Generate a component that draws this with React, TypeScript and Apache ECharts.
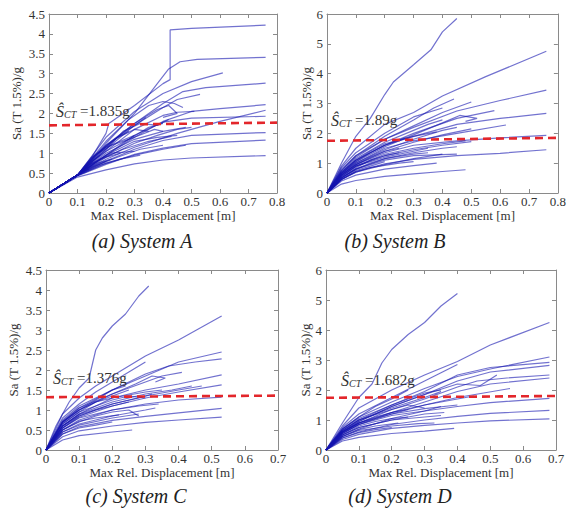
import React, { useEffect, useRef } from "react";
import * as echarts from "echarts";

const FONT = "Liberation Serif";

// ---- Data ----
const xTicksAB = [0, 0.1, 0.2, 0.3, 0.4, 0.5, 0.6, 0.7, 0.8];
const xTicksCD = [0, 0.1, 0.2, 0.3, 0.4, 0.5, 0.6, 0.7];
const yTicksAC = [0, 0.5, 1, 1.5, 2, 2.5, 3, 3.5, 4, 4.5];
const yTicksBD = [0, 1, 2, 3, 4, 5, 6];

const panelTitles = ["(a) System A", "(b) System B", "(c) System C", "(d) System D"];
const sctLabels = ["1.835g", "1.89g", "1.376g", "1.682g"];
// red dashed S_CT line: [value at left, value at right]
const sctLineA = [1.7, 1.77];
const sctLineB = [1.75, 1.85];
const sctLineC = [1.32, 1.36];
const sctLineD = [1.74, 1.8];

const curvesA: number[][][] = [
  [[0,0],[0.1,0.45],[0.15,0.9],[0.2,1.5],[0.21,1.75],[0.3,2.2],[0.4,2.75],[0.425,2.85],[0.425,4.1],[0.5,4.14],[0.76,4.22]],
  [[0,0],[0.1,0.45],[0.2,1.25],[0.3,2.0],[0.38,2.75],[0.42,3.12],[0.46,3.3],[0.52,3.36],[0.76,3.41]],
  [[0,0],[0.1,0.45],[0.2,1.4],[0.3,2.05],[0.4,2.5],[0.5,2.8],[0.61,3.02]],
  [[0,0],[0.1,0.45],[0.2,1.15],[0.3,1.75],[0.4,2.25],[0.47,2.55],[0.55,2.65],[0.76,2.76]],
  [[0,0],[0.1,0.45],[0.2,1.1],[0.3,1.7],[0.4,2.15],[0.45,2.35],[0.53,2.48]],
  [[0,0],[0.1,0.45],[0.2,0.95],[0.3,1.4],[0.4,1.8],[0.5,2.05],[0.6,2.12],[0.76,2.22]],
  [[0,0],[0.1,0.45],[0.2,0.85],[0.3,1.15],[0.45,1.5],[0.6,1.8],[0.76,2.08]],
  [[0,0],[0.1,0.45],[0.2,0.95],[0.3,1.45],[0.4,1.78],[0.5,1.88],[0.76,1.93]],
  [[0,0],[0.1,0.45],[0.2,1.05],[0.3,1.6],[0.4,1.95],[0.45,2.03],[0.51,2.05]],
  [[0,0],[0.1,0.45],[0.2,0.8],[0.3,1.1],[0.4,1.32],[0.5,1.45],[0.76,1.52]],
  [[0,0],[0.1,0.43],[0.2,0.72],[0.3,0.97],[0.4,1.13],[0.5,1.24],[0.76,1.33]],
  [[0,0],[0.1,0.4],[0.2,0.58],[0.3,0.73],[0.4,0.83],[0.5,0.88],[0.76,0.94]],
  [[0,0],[0.1,0.45],[0.2,1.3],[0.28,1.85],[0.35,2.2],[0.4,2.3],[0.44,2.25],[0.47,2.15]],
  [[0,0],[0.1,0.45],[0.2,1.2],[0.3,1.75],[0.38,2.1],[0.42,2.2],[0.45,2.0],[0.4,1.9]],
  [[0,0],[0.1,0.45],[0.2,1.0],[0.3,1.35],[0.4,1.55],[0.48,1.65]],
  [[0,0],[0.1,0.45],[0.18,0.85],[0.26,1.1],[0.35,1.3],[0.43,1.42]],
  [[0,0],[0.1,0.44],[0.2,0.75],[0.3,0.95],[0.4,1.1],[0.48,1.2]],
  [[0,0],[0.1,0.45],[0.17,1.0],[0.23,1.35],[0.3,1.6],[0.35,1.55]],
  [[0,0],[0.1,0.45],[0.15,0.75],[0.22,1.0],[0.3,1.05]],
  [[0,0],[0.1,0.45],[0.14,0.7],[0.2,0.9],[0.25,1.0]],
  [[0,0],[0.1,0.45],[0.13,0.65],[0.16,0.85],[0.18,0.95]],
  [[0,0],[0.1,0.45],[0.15,0.65],[0.2,0.8]],
  [[0,0],[0.1,0.45],[0.2,1.1],[0.26,1.55],[0.32,1.75],[0.38,1.7],[0.42,1.85]],
  [[0,0],[0.1,0.45],[0.15,0.9],[0.22,1.2],[0.3,1.4],[0.37,1.6],[0.4,1.55]],
  [[0,0],[0.1,0.45],[0.2,0.9],[0.3,1.25],[0.38,1.45],[0.45,1.6],[0.5,1.65]],
  [[0,0],[0.1,0.45],[0.12,0.55],[0.14,0.6]],
  [[0,0],[0.1,0.45],[0.13,0.6],[0.17,0.75],[0.22,0.85]],
  [[0,0],[0.1,0.45],[0.16,0.95],[0.2,1.15],[0.25,1.3],[0.3,1.45]],
  [[0,0],[0.1,0.45],[0.12,0.5],[0.18,0.7],[0.25,0.85],[0.32,0.95]],
  [[0,0],[0.1,0.45],[0.15,0.8],[0.2,1.05],[0.28,1.35],[0.35,1.65],[0.4,1.75]],
  [[0,0],[0.1,0.45],[0.14,0.75],[0.19,1.1],[0.24,1.4],[0.28,1.55]],
  [[0,0],[0.1,0.45],[0.2,0.95],[0.3,1.3],[0.38,1.4],[0.45,1.45]],
  [[0,0],[0.1,0.45],[0.17,0.7],[0.24,0.9],[0.32,1.1],[0.4,1.2]],
  [[0,0],[0.1,0.45],[0.15,0.85],[0.2,1.2],[0.25,1.45],[0.3,1.7],[0.34,1.9]],
];

const curvesB: number[][][] = [
  [[0,0],[0.05,1.0],[0.1,1.9],[0.15,2.5],[0.2,3.3],[0.23,3.72],[0.3,4.3],[0.36,4.8],[0.4,5.4],[0.45,5.85]],
  [[0,0],[0.05,0.9],[0.1,1.5],[0.2,2.3],[0.3,2.7],[0.4,3.25],[0.55,3.9],[0.76,4.75]],
  [[0,0],[0.05,0.75],[0.1,1.25],[0.2,1.8],[0.3,2.2],[0.45,2.75],[0.6,3.1],[0.76,3.45]],
  [[0,0],[0.05,0.65],[0.1,1.1],[0.2,1.6],[0.3,1.9],[0.45,2.3],[0.6,2.5],[0.76,2.67]],
  [[0,0],[0.05,0.6],[0.1,0.95],[0.2,1.35],[0.3,1.6],[0.45,1.75],[0.6,1.85],[0.76,1.93]],
  [[0,0],[0.05,0.45],[0.1,0.72],[0.2,0.98],[0.3,1.13],[0.45,1.25],[0.6,1.33],[0.76,1.45]],
  [[0,0],[0.05,0.3],[0.1,0.42],[0.2,0.56],[0.3,0.64],[0.4,0.72],[0.48,0.78]],
  [[0,0],[0.05,0.6],[0.1,1.0],[0.2,1.5],[0.3,1.75],[0.45,2.0],[0.62,2.28]],
  [[0,0],[0.05,0.7],[0.1,1.1],[0.2,1.6],[0.3,2.0],[0.45,2.5],[0.58,2.76]],
  [[0,0],[0.05,0.75],[0.1,1.2],[0.2,1.8],[0.3,2.25],[0.4,2.7],[0.5,3.05]],
  [[0,0],[0.05,0.8],[0.1,1.25],[0.2,1.9],[0.3,2.45],[0.37,2.85],[0.44,3.15]],
  [[0,0],[0.05,0.65],[0.1,1.05],[0.2,1.55],[0.3,1.95],[0.4,2.35],[0.46,2.6],[0.52,2.5],[0.48,2.4]],
  [[0,0],[0.05,0.6],[0.1,0.95],[0.2,1.4],[0.3,1.7],[0.4,1.95],[0.5,2.15]],
  [[0,0],[0.05,0.55],[0.1,0.9],[0.2,1.3],[0.3,1.5],[0.4,1.65],[0.48,1.75]],
  [[0,0],[0.05,0.5],[0.1,0.8],[0.2,1.15],[0.3,1.35],[0.4,1.5],[0.45,1.55]],
  [[0,0],[0.05,0.45],[0.1,0.7],[0.2,0.95],[0.3,1.15],[0.4,1.3]],
  [[0,0],[0.05,0.4],[0.1,0.6],[0.2,0.8],[0.3,0.92],[0.38,1.0]],
  [[0,0],[0.05,0.7],[0.1,1.15],[0.2,1.7],[0.3,2.1],[0.35,2.3],[0.4,2.45]],
  [[0,0],[0.05,0.65],[0.1,1.05],[0.15,1.35],[0.2,1.6],[0.27,1.85],[0.3,1.75]],
  [[0,0],[0.05,0.5],[0.1,0.85],[0.15,1.1],[0.2,1.25],[0.25,1.35]],
  [[0,0],[0.05,0.45],[0.1,0.75],[0.15,0.9],[0.2,1.05]],
  [[0,0],[0.05,0.55],[0.1,0.9],[0.2,1.25],[0.3,1.45],[0.4,1.6],[0.5,1.72]],
  [[0,0],[0.05,0.85],[0.1,1.35],[0.2,2.0],[0.3,2.55],[0.4,2.85]],
  [[0,0],[0.05,0.5],[0.1,0.8],[0.2,1.1],[0.3,1.25],[0.45,1.3]],
  [[0,0],[0.05,0.6],[0.1,0.95],[0.15,1.2],[0.2,1.4],[0.25,1.5]],
  [[0,0],[0.05,0.5],[0.1,0.8],[0.15,1.0],[0.2,1.15],[0.3,1.3],[0.35,1.35]],
  [[0,0],[0.05,0.7],[0.1,1.1],[0.15,1.4],[0.2,1.65],[0.3,1.9],[0.38,2.05]],
  [[0,0],[0.05,0.55],[0.1,0.9],[0.2,1.2],[0.3,1.4],[0.35,1.5]],
  [[0,0],[0.05,0.45],[0.1,0.7],[0.15,0.85],[0.25,1.0],[0.3,1.05]],
  [[0,0],[0.05,0.65],[0.1,1.0],[0.2,1.45],[0.3,1.8],[0.4,2.1],[0.45,2.2]],
];

const curvesC: number[][][] = [
  [[0,0],[0.03,0.6],[0.07,1.2],[0.1,1.55],[0.13,1.8],[0.15,2.5],[0.17,2.8],[0.2,3.1],[0.24,3.4],[0.28,3.85],[0.31,4.1]],
  [[0,0],[0.05,0.9],[0.1,1.3],[0.15,1.6],[0.2,1.85],[0.3,2.35],[0.4,2.75],[0.53,3.35]],
  [[0,0],[0.05,0.7],[0.1,1.0],[0.2,1.5],[0.3,1.85],[0.4,2.2],[0.53,2.45]],
  [[0,0],[0.05,0.72],[0.1,1.05],[0.2,1.5],[0.3,1.9],[0.37,2.1],[0.45,2.2],[0.53,2.28]],
  [[0,0],[0.05,0.6],[0.1,0.9],[0.2,1.3],[0.3,1.5],[0.4,1.65],[0.53,1.88]],
  [[0,0],[0.05,0.55],[0.1,0.82],[0.2,1.1],[0.3,1.3],[0.4,1.45],[0.53,1.63]],
  [[0,0],[0.05,0.5],[0.1,0.75],[0.2,1.0],[0.3,1.15],[0.4,1.25],[0.53,1.32]],
  [[0,0],[0.05,0.4],[0.1,0.58],[0.2,0.74],[0.3,0.84],[0.4,0.93],[0.53,1.04]],
  [[0,0],[0.05,0.33],[0.1,0.48],[0.2,0.6],[0.3,0.69],[0.4,0.75],[0.53,0.82]],
  [[0,0],[0.05,0.25],[0.1,0.36],[0.2,0.45],[0.26,0.5]],
  [[0,0],[0.05,0.68],[0.1,1.0],[0.2,1.4],[0.3,1.7],[0.35,1.85],[0.41,1.94]],
  [[0,0],[0.05,0.6],[0.1,0.9],[0.2,1.2],[0.3,1.4],[0.38,1.5],[0.44,1.6]],
  [[0,0],[0.05,0.8],[0.1,1.15],[0.15,1.45],[0.2,1.7],[0.25,1.95],[0.3,2.2]],
  [[0,0],[0.05,0.7],[0.1,1.05],[0.2,1.4],[0.27,1.65],[0.32,1.85],[0.36,1.8],[0.33,1.7]],
  [[0,0],[0.05,0.55],[0.1,0.8],[0.2,1.0],[0.28,1.1],[0.34,1.15]],
  [[0,0],[0.05,0.6],[0.1,0.88],[0.2,1.15],[0.28,1.3],[0.32,1.4]],
  [[0,0],[0.05,0.45],[0.1,0.62],[0.2,0.8],[0.28,0.9]],
  [[0,0],[0.05,0.65],[0.1,0.95],[0.15,1.2],[0.2,1.35],[0.25,1.5]],
  [[0,0],[0.05,0.5],[0.1,0.7],[0.15,0.85],[0.2,0.95],[0.25,1.0],[0.28,0.85]],
  [[0,0],[0.05,0.4],[0.1,0.55],[0.15,0.62],[0.2,0.7]],
  [[0,0],[0.05,0.75],[0.1,1.1],[0.15,1.3],[0.2,1.5],[0.24,1.6]],
  [[0,0],[0.05,0.55],[0.1,0.85],[0.2,1.15],[0.3,1.35],[0.4,1.5],[0.47,1.6]],
  [[0,0],[0.05,0.6],[0.1,0.85],[0.15,1.0],[0.2,1.1],[0.25,1.2]],
  [[0,0],[0.05,0.5],[0.1,0.72],[0.15,0.8],[0.22,0.88]],
  [[0,0],[0.05,0.7],[0.1,1.0],[0.15,1.2],[0.2,1.3],[0.3,1.45],[0.35,1.5]],
  [[0,0],[0.05,0.45],[0.1,0.65],[0.2,0.85],[0.3,1.0],[0.33,1.05]],
  [[0,0],[0.05,0.65],[0.1,0.95],[0.2,1.25],[0.25,1.35],[0.3,1.3]],
];

const curvesD: number[][][] = [
  [[0,0],[0.05,0.9],[0.1,1.75],[0.14,2.2],[0.17,2.9],[0.2,3.35],[0.25,3.85],[0.3,4.25],[0.35,4.8],[0.4,5.22]],
  [[0,0],[0.05,0.8],[0.1,1.4],[0.2,2.0],[0.3,2.5],[0.4,2.95],[0.5,3.5],[0.68,4.25]],
  [[0,0],[0.05,0.7],[0.1,1.1],[0.2,1.6],[0.3,2.05],[0.4,2.45],[0.5,2.7],[0.68,3.1]],
  [[0,0],[0.05,0.65],[0.1,1.0],[0.2,1.5],[0.3,1.95],[0.4,2.5],[0.5,2.75],[0.68,2.92]],
  [[0,0],[0.05,0.6],[0.1,0.95],[0.2,1.45],[0.3,1.85],[0.4,2.3],[0.5,2.6],[0.68,2.82]],
  [[0,0],[0.05,0.58],[0.1,0.9],[0.2,1.35],[0.3,1.7],[0.4,2.1],[0.46,2.3],[0.55,2.4],[0.68,2.5]],
  [[0,0],[0.05,0.55],[0.1,0.85],[0.2,1.25],[0.3,1.6],[0.4,1.95],[0.5,2.2],[0.68,2.4]],
  [[0,0],[0.05,0.45],[0.1,0.7],[0.2,1.05],[0.3,1.3],[0.4,1.45],[0.5,1.58],[0.68,1.72]],
  [[0,0],[0.05,0.4],[0.1,0.6],[0.2,0.85],[0.3,1.0],[0.4,1.12],[0.5,1.22],[0.68,1.32]],
  [[0,0],[0.05,0.35],[0.1,0.52],[0.2,0.72],[0.3,0.82],[0.4,0.9],[0.5,0.97],[0.68,1.04]],
  [[0,0],[0.05,0.3],[0.1,0.42],[0.2,0.55],[0.3,0.63],[0.39,0.72]],
  [[0,0],[0.05,0.62],[0.1,0.95],[0.2,1.45],[0.3,1.85],[0.4,2.2],[0.47,2.15],[0.52,2.5]],
  [[0,0],[0.05,0.55],[0.1,0.85],[0.2,1.2],[0.3,1.5],[0.4,1.75],[0.48,1.9],[0.56,2.05]],
  [[0,0],[0.05,0.75],[0.1,1.2],[0.2,1.75],[0.3,2.3],[0.4,2.85]],
  [[0,0],[0.05,0.5],[0.1,0.75],[0.2,1.0],[0.3,1.1],[0.35,1.15]],
  [[0,0],[0.05,0.6],[0.1,0.9],[0.2,1.2],[0.3,1.38],[0.4,1.5]],
  [[0,0],[0.05,0.45],[0.1,0.65],[0.2,0.8],[0.28,0.88],[0.33,0.9]],
  [[0,0],[0.05,0.65],[0.1,1.0],[0.2,1.35],[0.25,1.5],[0.3,1.4]],
  [[0,0],[0.05,0.7],[0.1,1.1],[0.15,1.45],[0.2,1.7],[0.25,2.0]],
  [[0,0],[0.05,0.5],[0.1,0.8],[0.15,0.95],[0.2,1.05],[0.25,1.1]],
  [[0,0],[0.05,0.65],[0.1,1.0],[0.2,1.4],[0.3,1.75],[0.35,1.95],[0.33,1.85]],
  [[0,0],[0.05,0.6],[0.1,0.9],[0.2,1.25],[0.3,1.5],[0.4,1.7],[0.45,1.8]],
  [[0,0],[0.05,0.4],[0.1,0.58],[0.15,0.68],[0.2,0.75]],
  [[0,0],[0.05,0.6],[0.1,0.9],[0.15,1.1],[0.2,1.25],[0.25,1.35]],
  [[0,0],[0.05,0.5],[0.1,0.75],[0.2,1.0],[0.3,1.2],[0.36,1.25]],
  [[0,0],[0.05,0.7],[0.1,1.05],[0.2,1.5],[0.3,1.9],[0.35,2.0]],
  [[0,0],[0.05,0.45],[0.1,0.68],[0.15,0.8],[0.22,0.9]],
  [[0,0],[0.05,0.55],[0.1,0.85],[0.2,1.15],[0.3,1.3],[0.35,1.45]],
];

// ---- Layout (pixels) ----
const panels = [
  { curves: curvesA, xt: xTicksAB, yt: yTicksAC, sct: sctLineA, grid: { left: 49, top: 14, width: 228, height: 179 }, yGap: 26, ann: [56, 103], title: [142, 241] },
  { curves: curvesB, xt: xTicksAB, yt: yTicksBD, sct: sctLineB, grid: { left: 327, top: 14, width: 235, height: 179 }, yGap: 14, ann: [331, 112], title: [395, 241] },
  { curves: curvesC, xt: xTicksCD, yt: yTicksAC, sct: sctLineC, grid: { left: 46, top: 270, width: 232, height: 180 }, yGap: 26, ann: [53, 370], title: [136, 496] },
  { curves: curvesD, xt: xTicksCD, yt: yTicksBD, sct: sctLineD, grid: { left: 326, top: 270, width: 230, height: 180 }, yGap: 14, ann: [341, 372], title: [400, 496] },
];

const AXIS_COLOR = "#8a8a8a";
const TEXT_COLOR = "#333";
const LINE_COLOR = "rgba(20, 20, 175, 0.6)";

function buildOption() {
  const grid = panels.map((p) => ({ ...p.grid, show: false }));
  const xAxis: any[] = [];
  const yAxis: any[] = [];
  panels.forEach((p, i) => {
    const xMax = p.xt[p.xt.length - 1];
    const xInt = p.xt[1] - p.xt[0];
    const yMax = p.yt[p.yt.length - 1];
    const yInt = p.yt[1] - p.yt[0];
    xAxis[i] = {
      gridIndex: i, type: "value", min: 0, max: xMax, interval: xInt, position: "bottom",
      axisLine: { show: true, onZero: false, lineStyle: { color: AXIS_COLOR, width: 1 } },
      axisTick: { show: true, inside: true, length: 4, lineStyle: { color: AXIS_COLOR } },
      axisLabel: { margin: 2, fontFamily: FONT, fontSize: 13, color: TEXT_COLOR },
      splitLine: { show: false },
      name: "Max Rel. Displacement [m]", nameLocation: "middle", nameGap: 12,
      nameTextStyle: { fontFamily: FONT, fontSize: 13, color: TEXT_COLOR },
    };
    xAxis[i + 4] = {
      gridIndex: i, type: "value", min: 0, max: xMax, interval: xInt, position: "top",
      axisLine: { show: true, onZero: false, lineStyle: { color: AXIS_COLOR, width: 1 } },
      axisTick: { show: true, inside: true, length: 4, lineStyle: { color: AXIS_COLOR } },
      axisLabel: { show: false }, splitLine: { show: false },
    };
    yAxis[i] = {
      gridIndex: i, type: "value", min: 0, max: yMax, interval: yInt, position: "left",
      axisLine: { show: true, onZero: false, lineStyle: { color: AXIS_COLOR, width: 1 } },
      axisTick: { show: true, inside: true, length: 4, lineStyle: { color: AXIS_COLOR } },
      axisLabel: { margin: 4, fontFamily: FONT, fontSize: 13, color: TEXT_COLOR },
      splitLine: { show: false },
      name: "Sa (T 1.5%)/g", nameLocation: "middle", nameGap: p.yGap, nameRotate: 90,
      nameTextStyle: { fontFamily: FONT, fontSize: 13, color: TEXT_COLOR },
    };
    yAxis[i + 4] = {
      gridIndex: i, type: "value", min: 0, max: yMax, interval: yInt, position: "right",
      axisLine: { show: true, onZero: false, lineStyle: { color: AXIS_COLOR, width: 1 } },
      axisTick: { show: true, inside: true, length: 4, lineStyle: { color: AXIS_COLOR } },
      axisLabel: { show: false }, splitLine: { show: false },
    };
  });

  const series: any[] = [];
  panels.forEach((p, i) => {
    p.curves.forEach((c) => {
      series.push({
        type: "line", xAxisIndex: i, yAxisIndex: i, data: c, showSymbol: false, silent: true,
        lineStyle: { color: LINE_COLOR, width: 1.2 }, z: 2,
      });
    });
    const xMax = p.xt[p.xt.length - 1];
    series.push({
      type: "line", xAxisIndex: i, yAxisIndex: i, showSymbol: false, silent: true,
      data: [[0, p.sct[0]], [xMax, p.sct[1]]],
      lineStyle: { color: "#e3262b", width: 2.6, type: [8, 5] }, z: 5,
    });
  });

  const graphic: any[] = [];
  panels.forEach((p, i) => {
    graphic.push({
      type: "text", x: p.ann[0], y: p.ann[1], z: 10,
      style: {
        text: `{s|Ŝ}{c|CT}{n| =${sctLabels[i]}}`,
        rich: {
          s: { fontFamily: FONT, fontSize: 16, fontStyle: "italic", fill: "#333", verticalAlign: "middle" },
          c: { fontFamily: FONT, fontSize: 10, fontStyle: "italic", fill: "#333", verticalAlign: "bottom", padding: [6, 0, 0, 0] },
          n: { fontFamily: FONT, fontSize: 15, fill: "#333", verticalAlign: "middle" },
        },
      },
    });
    graphic.push({
      type: "text", x: p.title[0], y: p.title[1], z: 10,
      style: {
        text: panelTitles[i], fontFamily: FONT, fontSize: 20, fontStyle: "italic",
        fill: "#222", align: "center", verticalAlign: "middle",
      },
    });
  });

  return { animation: false, backgroundColor: "#fff", textStyle: { fontFamily: FONT }, grid, xAxis, yAxis, series, graphic };
}

export default function App() {
  const ref = useRef<HTMLDivElement>(null);
  useEffect(() => {
    if (!ref.current) return;
    const chart = echarts.init(ref.current, undefined, { renderer: "svg" });
    chart.setOption(buildOption() as any);
    return () => chart.dispose();
  }, []);
  return <div ref={ref} style={{ position: "absolute", left: 0, top: 0, width: 569, height: 517 }} />;
}
